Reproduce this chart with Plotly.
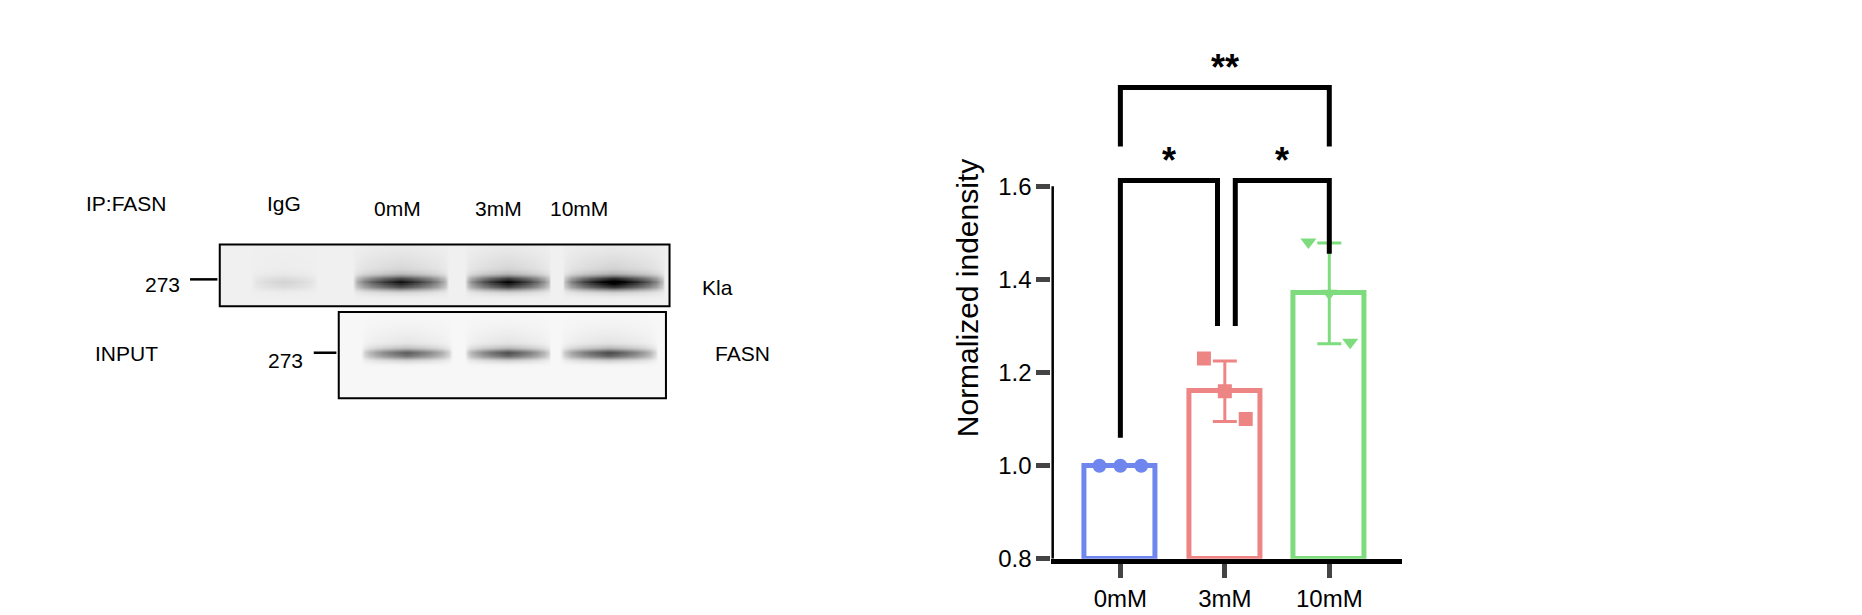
import numpy as np
import plotly.graph_objects as go

# ---- bar chart data ----
categories = ["0mM", "3mM", "10mM"]
means = [1.0, 1.16, 1.37]
sds = [0.0, 0.065, 0.108]
points_0 = [1.0, 1.0, 1.0]
points_3 = [1.23, 1.16, 1.10]
points_10 = [1.48, 1.37, 1.265]
y_ticks = [0.8, 1.0, 1.2, 1.4, 1.6]
colors = ["#6f86ee", "#ee8585", "#7edc7e"]
symbols = ["circle", "square", "triangle-down"]

S = 1862 / 1565  # layout scale

# ---- blot band data (lane centre, width, intensity) ----
kla_lanes_x = [232, 330, 420, 509]
kla_lanes_w = [55, 80, 72, 85]
kla_intensity = [0.10, 0.80, 0.85, 0.95]
input_lanes_x = [335, 420, 505]
input_lanes_w = [75, 72, 80]
input_intensity = [0.55, 0.6, 0.62]

W, H = 1862, 615
fig = go.Figure()

def blot(x0, x1, y0, y1, lx, lw, li, band_y, band_h, bg):
    xs = np.arange(x0, x1 + 1, 2.0) * S
    ys = np.arange(y0, y1 + 1, 1.0) * S
    z = np.full((len(ys), len(xs)), bg)
    for c, w, a in zip(lx, lw, li):
        c, w = c * S, w * S
        px = np.clip(1 - np.abs(xs - c) / (w / 2), 0, 1) ** 0.5
        py = np.exp(-((ys - band_y * S) / (band_h * S)) ** 2)
        z = z + a * np.outer(py, px)
        py2 = np.where(ys < band_y * S, np.exp(-((ys - band_y * S) / (band_h * S * 4)) ** 2), 0) * 0.15
        z = z + a * np.outer(py2, px)
    fig.add_trace(go.Heatmap(x=xs, y=ys, z=np.clip(z, 0, 1), zmin=0, zmax=1,
                             colorscale=[[0, "white"], [1, "black"]], showscale=False,
                             zsmooth="best", xaxis="x2", yaxis="y2", hoverinfo="skip"))
    fig.add_shape(type="rect", x0=x0 * S, x1=x1 * S, y0=y0 * S, y1=y1 * S, xref="x2", yref="y2",
                  line=dict(color="black", width=2))

blot(178, 556, 203, 256, kla_lanes_x, kla_lanes_w, kla_intensity, 236, 6, 0.06)
blot(278, 553, 261, 335, input_lanes_x, input_lanes_w, input_intensity, 297, 5, 0.03)

# bars
for i, (m, s, pts) in enumerate(zip(means, sds, [points_0, points_3, points_10])):
    fig.add_trace(go.Bar(x=[i], y=[m - 0.8], base=0.8, width=0.68,
                         marker=dict(color="white", line=dict(color=colors[i], width=5)),
                         showlegend=False, hoverinfo="skip"))
    fig.add_trace(go.Scatter(x=[i], y=[m], mode="markers", marker=dict(size=1, color=colors[i]),
                             error_y=dict(type="data", array=[s], color=colors[i], thickness=3, width=12),
                             showlegend=False))
    fig.add_trace(go.Scatter(x=[i - 0.2, i, i + 0.2], y=pts, mode="markers",
                             marker=dict(symbol=symbols[i], size=14, color=colors[i]),
                             showlegend=False))

lw = dict(color="black", width=5)
def bracket(xa, ya, xb, yb, ytop):
    fig.add_shape(type="path", path=f"M {xa},{ya} L {xa},{ytop} L {xb},{ytop} L {xb},{yb}",
                  xref="x", yref="y", line=lw)
bracket(0, 1.06, 0.93, 1.30, 1.612)
bracket(1.1, 1.30, 2, 1.455, 1.612)
bracket(0, 1.685, 2, 1.685, 1.812)
for x, y, t in [(0.47, 1.655, "*"), (1.55, 1.655, "*"), (1.0, 1.855, "**")]:
    fig.add_annotation(x=x, y=y, text="<b>" + t + "</b>", showarrow=False, xref="x", yref="y",
                       font=dict(size=36, color="black", family="Liberation Sans"))
fig.add_shape(type="line", x0=-0.66, x1=-0.66, y0=0.8, y1=1.6, xref="x", yref="y", line=lw)

font = dict(family="Liberation Sans, Arial", size=21, color="black")
labels = [(100, 168, "IP:FASN"), (232, 168, "IgG"), (327, 172, "0mM"), (412, 172, "3mM"),
          (480, 172, "10mM"), (130, 237, "273"), (596, 240, "Kla"), (100, 297, "INPUT"),
          (233, 303, "273"), (617, 297, "FASN")]
for x, y, t in labels:
    fig.add_annotation(x=x * S, y=y * S, text=t, showarrow=False, xref="x2", yref="y2", font=font)
for x0, x1, y in [(153, 176, 233), (257, 276, 296)]:
    fig.add_shape(type="line", x0=x0 * S, x1=x1 * S, y0=y * S, y1=y * S, xref="x2", yref="y2",
                  line=dict(color="black", width=2.5))

tf = dict(family="Liberation Sans, Arial", size=24, color="black")
fig.update_layout(
    width=W, height=H, margin=dict(l=0, r=0, t=0, b=0),
    plot_bgcolor="rgba(0,0,0,0)", paper_bgcolor="white", bargap=0,
    xaxis=dict(domain=[877 * S / W, 1172 * S / W], range=[-0.66, 2.7], tickvals=[0, 1, 2],
               ticktext=categories, showline=True, linecolor="black", linewidth=5,
               ticks="outside", ticklen=14, tickwidth=5, showgrid=False, zeroline=False,
               tickfont=tf),
    yaxis=dict(domain=[1 - 473 * S / H, 1 - 25 * S / H], range=[0.8, 1.92], tickvals=y_ticks,
               ticktext=["0.8", "1.0", "1.2", "1.4", "1.6"], showline=False,
               ticks="outside", ticklen=14, tickwidth=5, showgrid=False, zeroline=False,
               tickfont=tf,
               title=dict(text="Normalized indensity", standoff=10,
                          font=dict(family="Liberation Sans, Arial", size=30, color="black"))),
    xaxis2=dict(domain=[0, 1], range=[0, W], visible=False, anchor="y2"),
    yaxis2=dict(domain=[0, 1], range=[H, 0], visible=False, anchor="x2"),
)
fig.write_html("out.html")
